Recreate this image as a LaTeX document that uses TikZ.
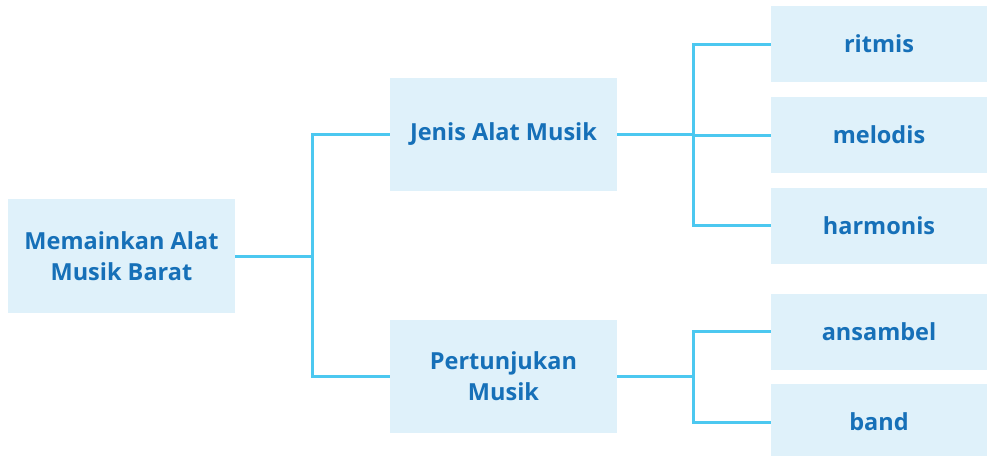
\documentclass[tikz,border=0pt]{standalone}
\usepackage{fontspec}
\setmainfont{Open Sans}
\usepackage{tikz}
\definecolor{boxfill}{RGB}{223, 241, 250}
\definecolor{textblue}{RGB}{22, 112, 184}
\definecolor{linkcyan}{RGB}{76, 200, 240}

\begin{document}
\begin{tikzpicture}[x=1pt, y=-1pt,
    box/.style={fill=boxfill, text=textblue, font=\fontsize{23.5}{31}\selectfont\bfseries,
        align=center, inner sep=0pt, minimum width=227pt, minimum height=113pt},
    leaf/.style={box, minimum width=216pt, minimum height=76pt},
    link/.style={draw=linkcyan, line width=3pt}]
        \useasboundingbox (0,0) rectangle (987,455);

        % kotak utama
        \node[box, minimum height=114pt] (root) at (121.5,256) {Memainkan Alat\\Musik Barat};

        % cabang tengah
        \node[box] (jenis) at (503.5,134.5) {Jenis Alat Musik};
        \node[box] (show) at (503.5,376.5) {Pertunjukan\\Musik};

        % daun
        \node[leaf] (ritmis) at (879,44) {ritmis};
        \node[leaf] (melodis) at (879,135) {melodis};
        \node[leaf] (harmonis) at (879,225.5) {harmonis};
        \node[leaf] (ansambel) at (879,331.5) {ansambel};
        \node[leaf] (band) at (879,422) {band};

        % titik percabangan
        \coordinate (s1) at (312,0);
        \coordinate (s2) at (693,0);

        % garis penghubung
        \draw[link] (root.east) -- (root.east -| s1);
        \draw[link] (jenis.west) -| (root.east -| s1) |- (show.west);
        \draw[link] (jenis.east) -- (jenis.east -| s2);
        \draw[link] (ritmis.west) -| (jenis.east -| s2) |- (harmonis.west);
        \draw[link] (melodis.west) -- (melodis.west -| s2);
        \draw[link] (show.east) -- (show.east -| s2);
        \draw[link] (ansambel.west) -| (show.east -| s2) |- (band.west);
    \end{tikzpicture}
\end{document}
